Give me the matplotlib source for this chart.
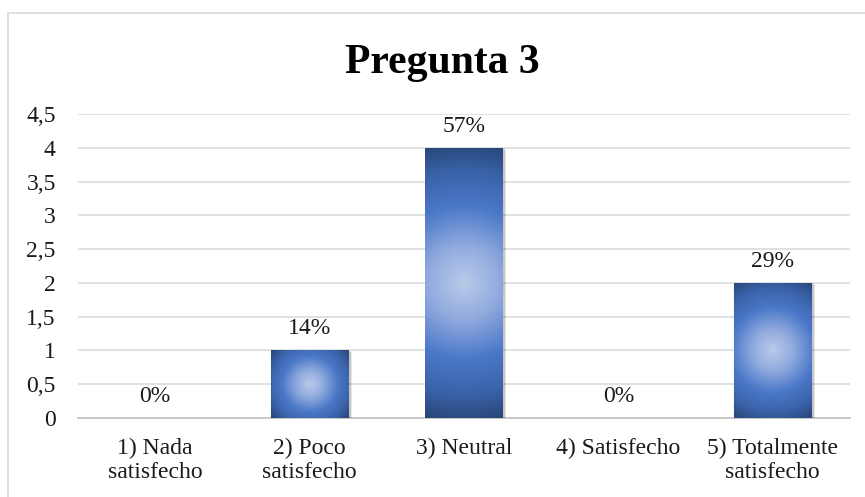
import numpy as np
import matplotlib
matplotlib.use("Agg")
import matplotlib.pyplot as plt
from matplotlib.patches import Rectangle
from matplotlib.colors import LinearSegmentedColormap

# Survey answers for question 3
categories = ["1) Nada\nsatisfecho", "2) Poco\nsatisfecho", "3) Neutral",
              "4) Satisfecho", "5) Totalmente\nsatisfecho"]
counts = [0, 1, 4, 0, 2]
y_ticks = [0, 0.5, 1, 1.5, 2, 2.5, 3, 3.5, 4, 4.5]
title = "Pregunta 3"

plt.rcParams["font.family"] = ["Liberation Serif", "DejaVu Serif"]

W, H, DPI = 865, 497, 100
FS = 17
fig = plt.figure(figsize=(W / DPI, H / DPI), dpi=DPI)
fig.patch.set_facecolor("white")

# Chart frame
fig.add_artist(Rectangle((8 / W, -0.2), 1.2, 1 - 13 / H + 0.2,
                         transform=fig.transFigure, fill=False,
                         edgecolor="#d9d9d9", linewidth=1.2))

left, right = 78 / W, 850 / W
bottom, top = 1 - 418 / H, 1 - 114 / H
ax = fig.add_axes([left, bottom, right - left, top - bottom])

x = np.arange(len(categories))
bar_w = 0.505
ax.set_xlim(-0.5, len(categories) - 0.5)
ax.set_ylim(0, 4.5)

# pixel scale of data units, used for the round fill of each bar
px_x = (right - left) * W / len(categories)
px_y = (top - bottom) * H / 4.5

cmap = LinearSegmentedColormap.from_list(
    "bar_fill",
    [(0.0, "#b9cbea"), (0.25, "#93acdf"), (0.55, "#4a77c8"),
     (0.8, "#3a62a8"), (1.0, "#284678")])

bars = ax.bar(x, counts, width=bar_w, color="none", edgecolor="none", zorder=3)

for rect, c in zip(bars, counts):
    if c <= 0:
        continue
    x0, w = rect.get_x(), rect.get_width()
    hgt = rect.get_height()
    wp, hp = w * px_x, hgt * px_y
    nx, ny = max(int(wp), 2), max(int(hp), 2)
    xs = np.linspace(-wp / 2, wp / 2, nx)
    ys = np.linspace(-hp / 2, hp / 2, ny)
    X, Y = np.meshgrid(xs, ys)
    r = np.sqrt(X ** 2 + Y ** 2) / np.sqrt((wp / 2) ** 2 + (hp / 2) ** 2)

    # soft shadow down and to the right
    for k, a in [(4, 0.04), (3, 0.05), (2, 0.07), (1, 0.08)]:
        dx, dy = k / px_x, k / px_y
        ax.add_patch(Rectangle((x0 + 1.5 / px_x - dx / 2, -dy), w + dx, hgt + dy / 2,
                               facecolor="black", edgecolor="none",
                               alpha=a, zorder=2))

    im = ax.imshow(r, cmap=cmap, vmin=0, vmax=1, origin="lower",
                   extent=(x0, x0 + w, 0, hgt), aspect="auto",
                   interpolation="bilinear", zorder=3)
    im.set_clip_path(rect)

ax.set_aspect("auto")
ax.set_xlim(-0.5, len(categories) - 0.5)
ax.set_ylim(0, 4.5)

# Percentage labels above each bar
total = sum(counts)
for xi, c in zip(x, counts):
    pct = round(100 * c / total)
    ax.annotate(f"{pct}%", (xi, c), xytext=(0, 11.5), textcoords="offset points",
                ha="center", va="baseline", fontsize=FS, color="#1a1a1a", zorder=5)

ax.set_yticks(y_ticks)
ax.set_yticklabels([f"{t:g}".replace(".", ",") for t in y_ticks])
ax.set_xticks(x)
ax.set_xticklabels(categories, linespacing=1.2)
ax.tick_params(axis="y", length=0, pad=16, labelsize=FS, labelcolor="#1a1a1a")
ax.tick_params(axis="x", length=0, pad=14, labelsize=FS, labelcolor="#1a1a1a")
for lab in ax.get_yticklabels():
    lab.set_horizontalalignment("right")

ax.grid(axis="y", color="#d9d9d9", linewidth=1.1, zorder=0)
ax.set_axisbelow(True)
for s in ["top", "right", "left"]:
    ax.spines[s].set_visible(False)
ax.spines["bottom"].set_color("#c8c8c8")
ax.spines["bottom"].set_linewidth(1.4)
ax.spines["bottom"].set_zorder(1)

fig.text(442 / W, 1 - 73 / H, title, ha="center", va="baseline",
         fontsize=30, fontweight="bold", color="black")

fig.savefig("out.png", dpi=DPI)
